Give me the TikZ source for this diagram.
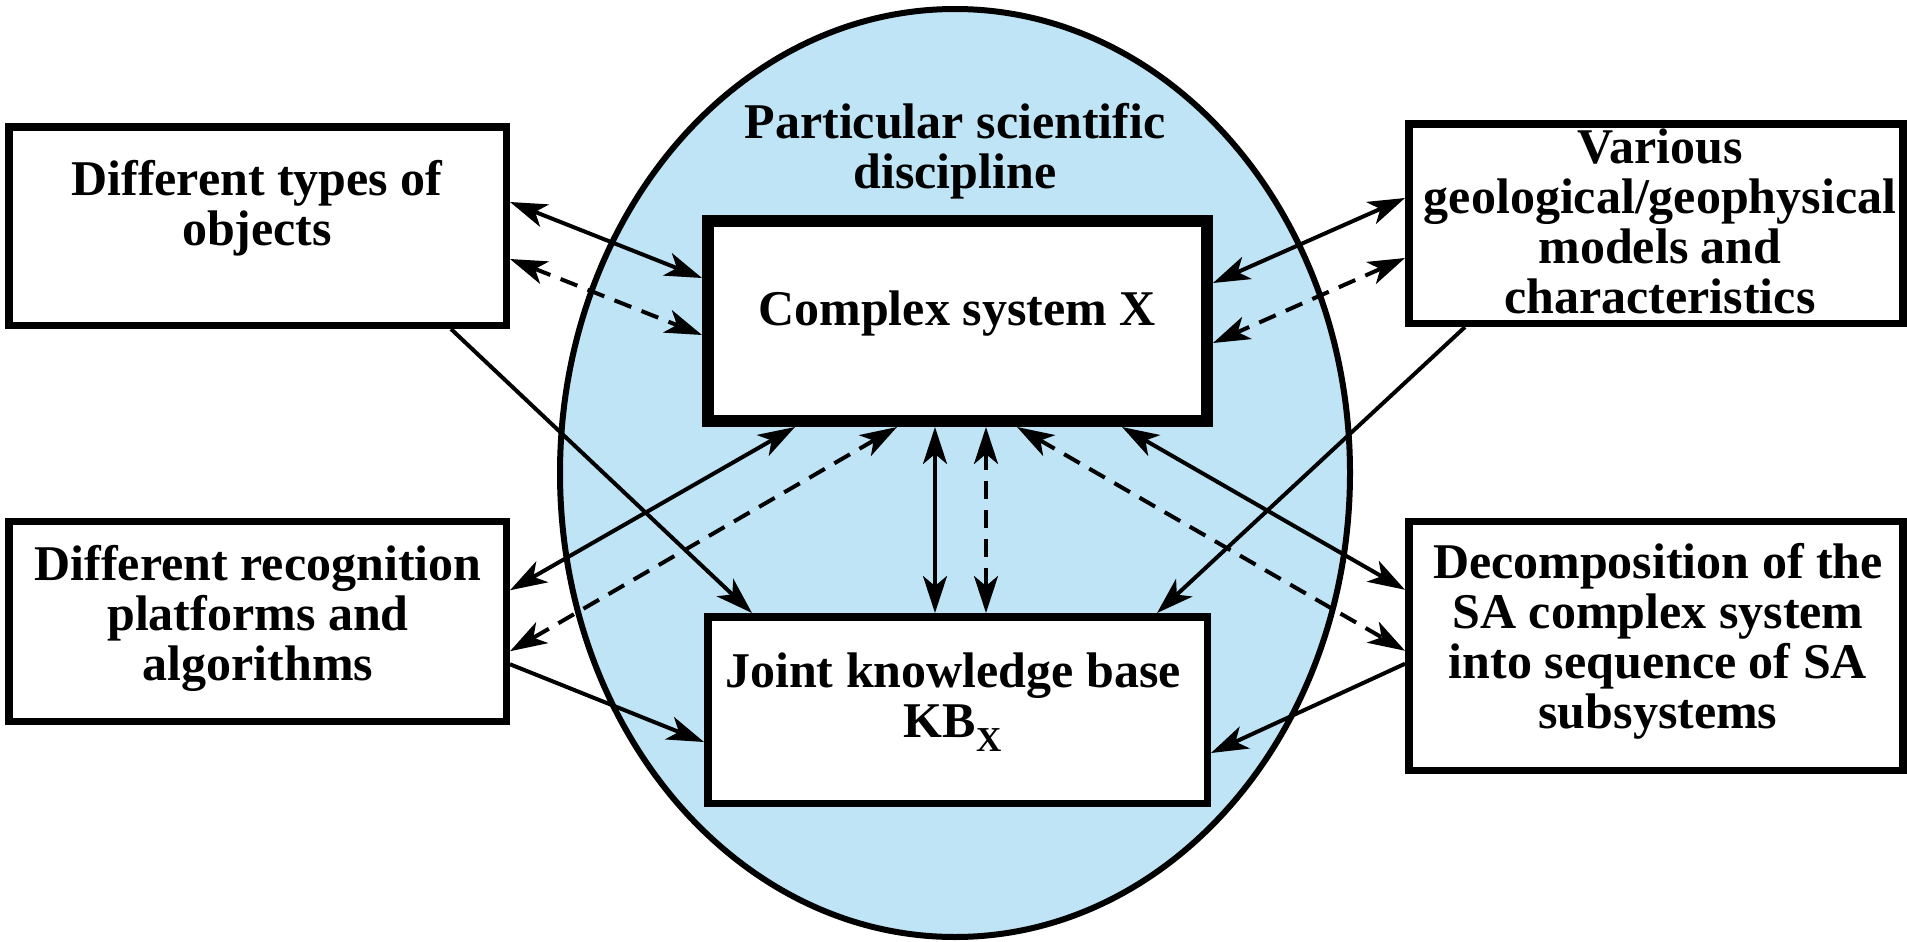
\documentclass[tikz,border=0pt]{standalone}
\usepackage{fontspec}
\setmainfont{Liberation Serif}
\usetikzlibrary{arrows.meta,calc,shapes.geometric}
\definecolor{skyfill}{RGB}{190,228,245}
\begin{document}
\begin{tikzpicture}[x=1pt,y=-1pt,
  myhead/.tip={Stealth[length=37pt,width=24pt,inset=10pt]},
  box/.style={draw, fill=white, line width=7.5pt, inner sep=0pt, rectangle},
  txt/.style={font=\fontsize{50}{50}\selectfont\bfseries, align=center, inner sep=0pt, anchor=north},
  conn/.style={line width=4pt},
  biarr/.style={conn, arrows={myhead-myhead}},
  fwdarr/.style={conn, arrows={-myhead}},
  dsh/.style={dash pattern=on 18pt off 11pt}]
\useasboundingbox (0,0) rectangle (1907,942);
% background discipline ellipse
\node[ellipse, draw, fill=skyfill, line width=6pt, minimum width=790pt, minimum height=928pt, inner sep=0pt] (disc) at (955,473) {};
% boxes
\node[box, minimum width=497.5pt, minimum height=198.5pt] (tl) at (257.5,226) {};
\node[box, minimum width=494pt, minimum height=199.5pt] (tr) at (1655.75,223.5) {};
\node[box, minimum width=497.5pt, minimum height=200pt] (bl) at (257.5,621.25) {};
\node[box, minimum width=494pt, minimum height=249pt] (br) at (1655.75,645.75) {};
\node[box, line width=12pt, minimum width=499pt, minimum height=200pt] (cx) at (957.5,321) {};
\node[box, minimum width=499.5pt, minimum height=186.5pt] (kb) at (957.5,710) {};
% texts
\node[txt] (title) at (955,102) {\rule{0pt}{36pt}Particular scientific\\discipline};
\node[txt] (tltext) at (257,159) {\rule{0pt}{36pt}Different types of\\objects};
\node[txt] (trtext) at (1660,127) {\rule{0pt}{36pt}Various\\geological/geophysical\\models and\\characteristics};
\node[txt] (bltext) at (258,544) {\rule{0pt}{36pt}Different recognition\\platforms and\\algorithms};
\node[txt] (brtext) at (1658,542) {\rule{0pt}{36pt}Decomposition of the\\SA complex system\\into sequence of SA\\subsystems};
\node[txt] (cxtext) at (957,289) {\rule{0pt}{36pt}Complex system X};
\node[txt] (kbtext) at (953,651) {\rule{0pt}{36pt}Joint knowledge base\\KB\textsubscript{X}};
% connectors
\draw[biarr] ($(tl.east)+(0,-24)$) -- ($(cx.west)+(0,-43)$);
\draw[biarr,dsh] ($(tl.east)+(0,33)$) -- ($(cx.west)+(0,14)$);
\draw[fwdarr] ($(tl.south)+(193.5,0)$) -- ($(kb.north)+(-205.5,0)$);
\draw[biarr] ($(cx.south)+(-162.5,0)$) -- ($(bl.east)+(0,-31)$);
\draw[biarr,dsh] ($(cx.south)+(-60.5,0)$) -- ($(bl.east)+(0,30)$);
\draw[fwdarr] ($(bl.east)+(0,43)$) -- ($(kb.west)+(0,32)$);
\draw[biarr] ($(cx.south)+(-22.5,0)$) -- ($(kb.north)+(-22.5,0)$);
\draw[biarr,dsh] ($(cx.south)+(28.5,0)$) -- ($(kb.north)+(28.5,0)$);
\draw[biarr,dsh] ($(cx.south)+(59.5,0)$) -- ($(br.west)+(0,5)$);
\draw[biarr] ($(cx.south)+(164.5,0)$) -- ($(br.west)+(0,-56)$);
\draw[fwdarr] ($(tr.south)+(-190.75,0)$) -- ($(kb.north)+(199.5,0)$);
\draw[biarr] ($(tr.west)+(0,-25.5)$) -- ($(cx.east)+(0,-38)$);
\draw[biarr,dsh] ($(tr.west)+(0,34.5)$) -- ($(cx.east)+(0,22)$);
\draw[fwdarr] ($(br.west)+(0,18)$) -- ($(kb.east)+(0,43)$);
\end{tikzpicture}
\end{document}
